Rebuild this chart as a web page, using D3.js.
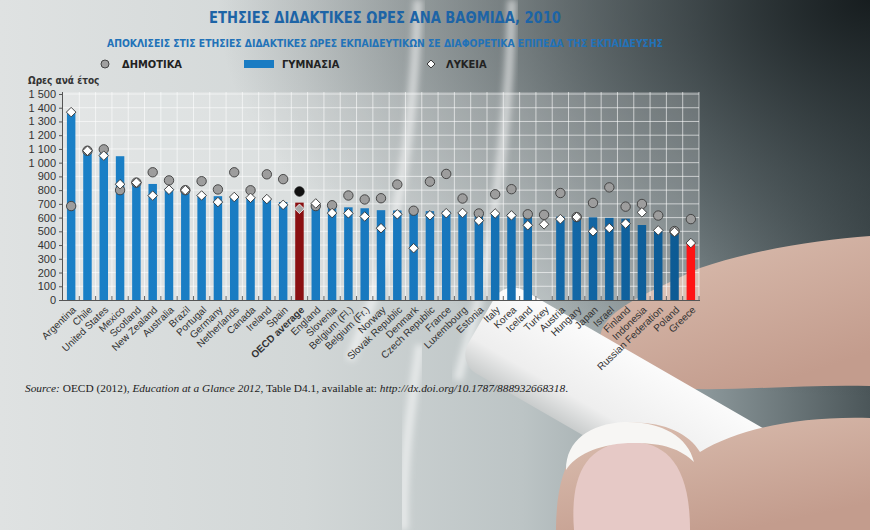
<!DOCTYPE html>
<html lang="el">
<head>
<meta charset="UTF-8">
<title>Ετήσιες διδακτικές ώρες ανά βαθμίδα, 2010</title>
<script src="https://d3js.org/d3.v7.min.js"></script>
<style>
    body { margin: 0; background: #d5d9d9; }
    svg { display: block; }
    .narrow { font-family: "Liberation Sans Narrow", "DejaVu Sans Condensed", "Liberation Sans", sans-serif; }
    .xlabel { font-family: "Liberation Sans", Arial, sans-serif; font-size: 10px; fill: #333; }
    .ytick text { font-family: "Liberation Sans Narrow", "Liberation Sans", sans-serif; font-size: 11px; fill: #333; }
</style>
</head>
<body>
<div id="chart"></div>
<script>
// data (hours per year, 2010)
const countries = ["Argentina", "Chile", "United States", "Mexico", "Scotland", "New Zealand",
    "Australia", "Brazil", "Portugal", "Germany", "Netherlands", "Canada", "Ireland", "Spain",
    "OECD average", "England", "Slovenia", "Belgium (Fl.)", "Belgium (Fr.)", "Norway",
    "Slovak Republic", "Denmark", "Czech Republic", "France", "Luxembourg", "Estonia", "Italy",
    "Korea", "Iceland", "Turkey", "Austria", "Hungary", "Japan", "Israel", "Finland",
    "Indonesia", "Russian Federation", "Poland", "Greece"];
const primary = [684, 1087, 1097, 800, 855, 930, 871, 800, 865, 805, 930, 799, 915, 880,
    790, 684, 690, 761, 732, 741, 841, 650, 862, 918, 739, 630, 770, 807, 624, 620, 779,
    604, 707, 820, 680, 699, 615, 502, 589];
const lowerSecondary = [1368, 1087, 1068, 1047, 855, 845, 811, 800, 761, 756, 750, 740, 735, 713,
    709, 703, 690, 675, 668, 654, 652, 650, 647, 646, 634, 630, 630, 627, 624, null, 607,
    604, 602, 598, 592, 546, 507, 497, 415];
const upperSecondary = [1368, 1087, 1051, 843, 855, 760, 803, 800, 761, 713, 750, 744, 735, 693,
    664, 703, 633, 631, 608, 523, 624, 377, 617, 632, 634, 578, 630, 616, 544, 551, 589,
    604, 500, 524, 556, 638, 507, 495, 415];
const yTicks = [0, 100, 200, 300, 400, 500, 600, 700, 800, 900, 1000, 1100, 1200, 1300, 1400, 1500];
const yTickLabels = ["0", "100", "200", "300", "400", "500", "600", "700", "800", "900",
    "1 000", "1 100", "1 200", "1 300", "1 400", "1 500"];
const legendLabels = ["ΔΗΜΟΤΙΚΑ", "ΓΥΜΝΑΣΙΑ", "ΛΥΚΕΙΑ"];

const width = 870, height = 530;
const plot = { left: 63, right: 699, top: 92, bottom: 300 };

const svg = d3.select("#chart").append("svg")
    .attr("width", width).attr("height", height);
const defs = svg.append("defs");

// ---- photo-like backdrop (blackboard, chalk, fingers) ----
const bg = defs.append("linearGradient").attr("id", "bg").attr("x1", 0).attr("x2", 1).attr("y1", 0).attr("y2", 0);
[[0, "#dfe2e2"], [0.35, "#d2d7d7"], [0.6, "#bcc4c5"], [0.8, "#8f9b9e"], [1, "#4b5659"]]
    .forEach(([o, c]) => bg.append("stop").attr("offset", o).attr("stop-color", c));
const vig = defs.append("radialGradient").attr("id", "vig")
    .attr("cx", 1).attr("cy", 0).attr("r", 0.75);
vig.append("stop").attr("offset", 0).attr("stop-color", "#141a1c").attr("stop-opacity", 0.95);
vig.append("stop").attr("offset", 0.45).attr("stop-color", "#2a3336").attr("stop-opacity", 0.6);
vig.append("stop").attr("offset", 1).attr("stop-color", "#2a3336").attr("stop-opacity", 0);
const skin = defs.append("linearGradient").attr("id", "skin").attr("x1", 0).attr("x2", 0.6).attr("y1", 0).attr("y2", 1);
skin.append("stop").attr("offset", 0).attr("stop-color", "#dcc0b2");
skin.append("stop").attr("offset", 1).attr("stop-color", "#c39c8d");
const chalk = defs.append("linearGradient").attr("id", "chalk").attr("x1", 0).attr("x2", 0).attr("y1", 0).attr("y2", 1);
chalk.append("stop").attr("offset", 0).attr("stop-color", "#fbfbfb");
chalk.append("stop").attr("offset", 0.7).attr("stop-color", "#eeeeee");
chalk.append("stop").attr("offset", 1).attr("stop-color", "#c9cccc");
defs.append("filter").attr("id", "soft").append("feGaussianBlur").attr("stdDeviation", 3);

svg.append("rect").attr("width", width).attr("height", height).attr("fill", "url(#bg)");
svg.append("rect").attr("width", width).attr("height", height).attr("fill", "url(#vig)");

const photo = svg.append("g");
photo.selectAll("path.streak")
    .data(["M418,0 C416,60 410,150 392,230 C380,285 365,320 350,360",
           "M512,0 C510,90 500,200 478,300 C470,340 462,360 458,380",
           "M420,345 C412,400 402,460 404,530"])
    .join("path").attr("class", "streak")
    .attr("d", d => d).attr("fill", "none")
    .attr("stroke", "#ffffff").attr("stroke-opacity", 0.55)
    .attr("stroke-width", 9).attr("filter", "url(#soft)");
photo.append("path")
    .attr("d", "M600,340 C600,312 640,296 700,268 C760,248 820,240 870,236 L870,386 C800,384 730,392 668,388 C628,384 600,368 600,340 Z")
    .attr("fill", "url(#skin)");
photo.append("rect")
    .attr("x", -188).attr("y", -48).attr("width", 376).attr("height", 96).attr("rx", 22)
    .attr("transform", "translate(644,415) rotate(30)")
    .attr("fill", "url(#chalk)");
photo.append("path")
    .attr("d", "M556,530 C556,470 575,428 622,423 C660,420 688,432 700,452 C740,428 800,416 870,418 L870,530 Z")
    .attr("fill", "url(#skin)");
photo.append("path")
    .attr("d", "M574,530 C570,478 584,446 626,442 C664,440 690,462 690,530 Z")
    .attr("fill", "#e6c9c6");
photo.append("path")
    .attr("d", "M566,470 C566,440 590,424 624,422 C660,421 688,436 694,462 C680,448 660,442 628,443 C596,445 576,455 566,470 Z")
    .attr("fill", "#f7f6f4");

// ---- titles and legend ----
svg.append("text").attr("class", "narrow")
    .attr("x", 385).attr("y", 23).attr("text-anchor", "middle")
    .attr("font-size", 16).attr("font-weight", "bold").attr("fill", "#1d64a6")
    .attr("textLength", 352).attr("lengthAdjust", "spacingAndGlyphs")
    .text("ΕΤΗΣΙΕΣ ΔΙΔΑΚΤΙΚΕΣ ΩΡΕΣ ΑΝΑ ΒΑΘΜΙΔΑ, 2010");
svg.append("text").attr("class", "narrow")
    .attr("x", 385).attr("y", 47).attr("text-anchor", "middle")
    .attr("font-size", 11).attr("font-weight", "bold").attr("fill", "#2272b8")
    .attr("textLength", 556).attr("lengthAdjust", "spacingAndGlyphs")
    .text("ΑΠΟΚΛΙΣΕΙΣ ΣΤΙΣ ΕΤΗΣΙΕΣ ΔΙΔΑΚΤΙΚΕΣ ΩΡΕΣ ΕΚΠΑΙΔΕΥΤΙΚΩΝ ΣΕ ΔΙΑΦΟΡΕΤΙΚΑ ΕΠΙΠΕΔΑ ΤΗΣ ΕΚΠΑΙΔΕΥΣΗΣ");

const legend = svg.append("g").attr("class", "narrow").attr("font-size", 11)
    .attr("font-weight", "bold").attr("fill", "#222");
legend.append("circle").attr("cx", 105).attr("cy", 64).attr("r", 4)
    .attr("fill", "#a0a0a0").attr("stroke", "#444");
legend.append("text").attr("x", 122).attr("y", 68).text(legendLabels[0]);
legend.append("rect").attr("x", 244).attr("y", 60).attr("width", 30).attr("height", 8).attr("fill", "#1a7cc3");
legend.append("text").attr("x", 282).attr("y", 68).text(legendLabels[1]);
legend.append("path").attr("d", d3.symbol(d3.symbolDiamond2, 40)())
    .attr("transform", "translate(431,64)")
    .attr("fill", "#fff").attr("stroke", "#333");
legend.append("text").attr("x", 446).attr("y", 68).text(legendLabels[2]);

svg.append("text").attr("class", "narrow")
    .attr("x", 28).attr("y", 84).attr("font-size", 10).attr("font-weight", "bold")
    .attr("fill", "#333").text("Ωρες ανά έτος");

// ---- scales ----
const x = d3.scaleBand().domain(countries)
    .range([plot.left, plot.right]).paddingInner(0.48).paddingOuter(0.24);
const y = d3.scaleLinear().domain([0, 1500]).range([plot.bottom, 94]);
const step = x.step();

// panel + grid
svg.append("rect")
    .attr("x", plot.left).attr("y", plot.top)
    .attr("width", plot.right - plot.left).attr("height", plot.bottom - plot.top)
    .attr("fill", "#ffffff").attr("fill-opacity", 0.2);
const grid = svg.append("g").attr("stroke", "#ffffff").attr("stroke-opacity", 0.6).attr("stroke-width", 1);
grid.selectAll("line.h").data(yTicks.slice(1)).join("line").attr("class", "h")
    .attr("x1", plot.left).attr("x2", plot.right)
    .attr("y1", d => y(d)).attr("y2", d => y(d));
grid.selectAll("line.v").data(countries).join("line").attr("class", "v")
    .attr("x1", d => x(d) + x.bandwidth() + (step - x.bandwidth()) / 2)
    .attr("x2", d => x(d) + x.bandwidth() + (step - x.bandwidth()) / 2)
    .attr("y1", plot.top).attr("y2", plot.bottom);

// bars
const barGrad = defs.append("linearGradient").attr("id", "bar")
    .attr("gradientUnits", "userSpaceOnUse")
    .attr("x1", plot.left).attr("x2", plot.right).attr("y1", 0).attr("y2", 0);
[[0, "#1a80c7"], [0.6, "#1877bd"], [1, "#0c5890"]]
    .forEach(([o, c]) => barGrad.append("stop").attr("offset", o).attr("stop-color", c));

const rows = countries.map((c, i) => ({
    name: c, p: primary[i], l: lowerSecondary[i], u: upperSecondary[i]
}));
const barFill = d => d.name === "OECD average" ? "#8a1012" : d.name === "Greece" ? "#ff1414" : "url(#bar)";

svg.append("g").selectAll("rect").data(rows.filter(d => d.l != null)).join("rect")
    .attr("x", d => x(d.name)).attr("width", x.bandwidth())
    .attr("y", d => y(d.l)).attr("height", d => y(0) - y(d.l))
    .attr("fill", barFill);

// axes
const yAxis = svg.append("g").attr("class", "ytick")
    .attr("transform", `translate(${plot.left},0)`)
    .call(d3.axisLeft(y).tickValues(yTicks).tickSize(4).tickPadding(3)
        .tickFormat((d, i) => yTickLabels[i]));
yAxis.select(".domain").attr("stroke", "#555").attr("d", `M-0.5,${plot.top}V${plot.bottom}`);
yAxis.selectAll(".tick line").attr("stroke", "#555");

const xAxis = svg.append("g");
xAxis.append("line").attr("x1", plot.left).attr("x2", plot.right + 1)
    .attr("y1", plot.bottom + 0.5).attr("y2", plot.bottom + 0.5).attr("stroke", "#555");
xAxis.selectAll("line.tk").data(countries).join("line").attr("class", "tk")
    .attr("x1", d => x(d) + x.bandwidth() + (step - x.bandwidth()) / 2)
    .attr("x2", d => x(d) + x.bandwidth() + (step - x.bandwidth()) / 2)
    .attr("y1", plot.bottom).attr("y2", plot.bottom - 4)
    .attr("stroke", "#666");
xAxis.selectAll("text").data(countries).join("text").attr("class", "xlabel")
    .attr("transform", d => `translate(${x(d) + x.bandwidth() / 2 + 3},${plot.bottom + 8}) rotate(-44)`)
    .attr("text-anchor", "end").attr("dy", "0.35em")
    .attr("font-weight", d => d === "OECD average" ? "bold" : null)
    .attr("fill", d => d === "Greece" ? "#d0202a" : d === "OECD average" ? "#111" : null)
    .text(d => d);

// markers: primary (circles) then upper secondary (diamonds)
const cx = d => x(d.name) + x.bandwidth() / 2;
svg.append("g").selectAll("circle").data(rows).join("circle")
    .attr("cx", cx).attr("cy", d => y(d.p)).attr("r", 4.7)
    .attr("fill", d => d.name === "OECD average" ? "#111" : "#9d9d9d")
    .attr("stroke", d => d.name === "OECD average" ? "#111" : "#3c3c3c").attr("stroke-width", 0.9);
svg.append("g").selectAll("path").data(rows).join("path")
    .attr("d", d3.symbol(d3.symbolDiamond2, 58)())
    .attr("transform", d => `translate(${cx(d)},${y(d.u)})`)
    .attr("fill", d => d.name === "OECD average" ? "#a9a9a9" : "#ffffff")
    .attr("stroke", d => d.name === "OECD average" ? "#eeeeee" : "#333").attr("stroke-width", 0.9);

// source line
const src = svg.append("text")
    .attr("x", 25).attr("y", 392)
    .attr("font-family", "'Liberation Serif', 'DejaVu Serif', serif")
    .attr("font-size", 10.5).attr("fill", "#222")
    .attr("textLength", 543).attr("lengthAdjust", "spacingAndGlyphs");
src.append("tspan").attr("font-style", "italic").text("Source:");
src.append("tspan").text("  OECD (2012), ");
src.append("tspan").attr("font-style", "italic").text("Education at a Glance 2012");
src.append("tspan").text(", Table D4.1, available at: ");
src.append("tspan").attr("font-style", "italic").text("http://dx.doi.org/10.1787/888932668318");
src.append("tspan").text(".");
</script>
</body>
</html>
